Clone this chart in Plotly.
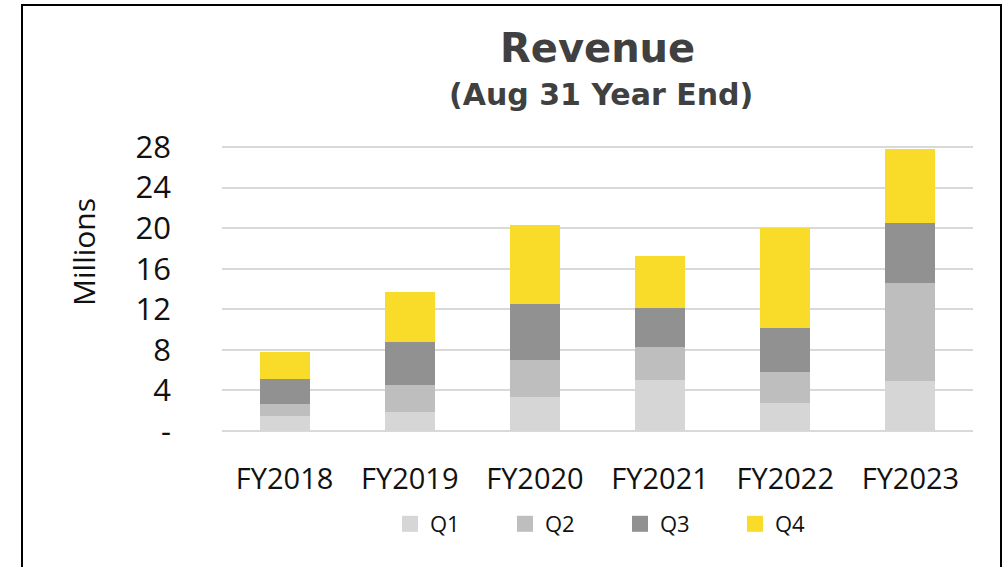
import plotly.graph_objects as go

# ---- data (USD millions) ----
years = ["FY2018", "FY2019", "FY2020", "FY2021", "FY2022", "FY2023"]
q1 = [1.48, 1.84, 3.35, 5.00, 2.73, 4.90]
q2 = [1.15, 2.66, 3.62, 3.25, 3.06, 9.67]
q3 = [2.50, 4.28, 5.55, 3.85, 4.34, 5.91]
q4 = [2.66, 4.90, 7.77, 5.13, 9.86, 7.30]
series_names = ["Q1", "Q2", "Q3", "Q4"]
colors = ["#d6d6d6", "#bebebe", "#919191", "#f9dc2a"]
y_tickvals = [0, 4, 8, 12, 16, 20, 24, 28]
y_ticktext = ["-", "4", "8", "12", "16", "20", "24", "28"]

W, H = 1008, 567
ML, MR, MT, MB = 222, 35, 146, 136
PW, PH = W - ML - MR, H - MT - MB


def px(x):
    return (x - ML) / PW


def py(y):
    return (H - MB - y) / PH


fig = go.Figure()
for name, vals, col in zip(series_names, [q1, q2, q3, q4], colors):
    fig.add_trace(go.Bar(x=years, y=vals, name=name, marker_color=col,
                         marker_line_width=0, showlegend=False))
# legend entries with larger square swatches
for name, col in zip(series_names, colors):
    fig.add_trace(go.Scatter(x=[None], y=[None], mode="markers", name=name,
                             marker=dict(symbol="square", size=16, color=col),
                             showlegend=True))

tick_font = "Open Sans, Poppins, sans-serif"

fig.update_layout(
    width=W, height=H,
    margin=dict(l=ML, r=MR, t=MT, b=MB, pad=0),
    barmode="stack",
    bargap=0.6,
    plot_bgcolor="white",
    paper_bgcolor="white",
    showlegend=True,
    legend=dict(orientation="h", x=px(390), xanchor="left",
                y=py(524), yanchor="middle",
                font=dict(family=tick_font, size=22, color="#111111"),
                entrywidth=70, traceorder="normal", itemsizing="trace"),
    xaxis=dict(showgrid=False, showline=False, zeroline=False,
               ticks="", ticklabelstandoff=28,
               tickfont=dict(family=tick_font, size=29, color="#111111")),
    yaxis=dict(range=[0, 28.1], tickvals=y_tickvals, ticktext=y_ticktext,
               showgrid=True, gridcolor="#d9d9d9", gridwidth=2,
               zeroline=True, zerolinecolor="#d9d9d9", zerolinewidth=2,
               showline=False, ticks="", ticklabelstandoff=50,
               tickfont=dict(family=tick_font, size=31, color="#111111")),
    annotations=[
        dict(text="<b>Revenue</b>", x=px(597), y=py(48), xref="paper", yref="paper",
             xanchor="center", yanchor="middle", showarrow=False,
             font=dict(family="DejaVu Sans", size=40, color="#404040")),
        dict(text="<b>(Aug 31 Year End)</b>", x=px(601), y=py(94), xref="paper", yref="paper",
             xanchor="center", yanchor="middle", showarrow=False,
             font=dict(family="DejaVu Sans", size=30, color="#404040")),
        dict(text="Millions", x=px(83), y=py(252), xref="paper", yref="paper",
             xanchor="center", yanchor="middle", showarrow=False, textangle=-90,
             font=dict(family=tick_font, size=30, color="#111111")),
    ],
    shapes=[
        dict(type="rect", xref="paper", yref="paper",
             x0=px(22), x1=px(1001), y0=py(600), y1=py(5),
             line=dict(color="black", width=2), fillcolor="rgba(0,0,0,0)",
             layer="above"),
    ],
)

fig.write_html("out.html", config={"displayModeBar": False},
               post_script="document.body.style.margin='0';document.body.style.overflow='hidden';")
